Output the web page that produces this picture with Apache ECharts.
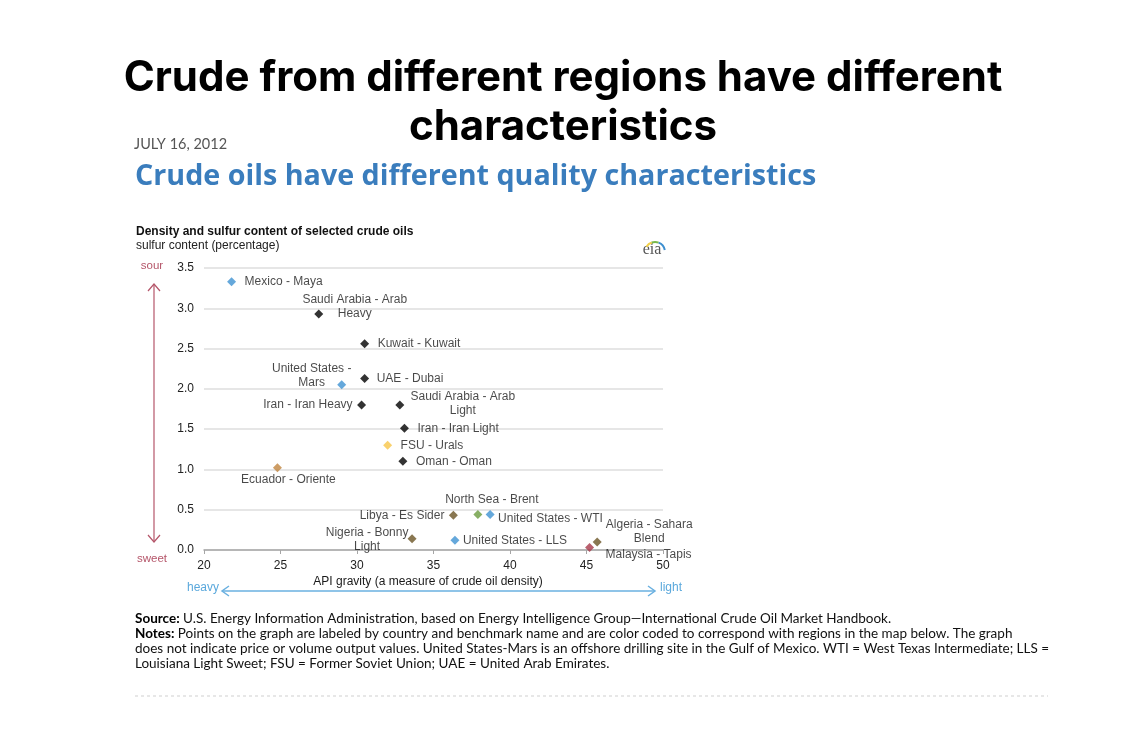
<!DOCTYPE html>
<html lang="en">
    <head>
        <meta http-equiv="Content-Type" content="text/html; charset=utf-8" />
        <title>Crude oils have different quality characteristics</title>
        <style>
            * {
                margin: 0;
                padding: 0;
                box-sizing: border-box;
            }
            html,
            body {
                width: 100%;
                height: 100%;
                background: #fff;
            }
            #main {
                width: 1127px;
                height: 748px;
            }
        </style>
    </head>
    <body>
        <div id="main"></div>
        <script src="https://cdn.jsdelivr.net/npm/echarts@6/dist/echarts.min.js"></script>
        <script>
            // data (API gravity vs sulfur %)
            const crudeNames = [
                'Mexico - Maya',
                'Saudi Arabia - Arab\nHeavy',
                'Kuwait - Kuwait',
                'United States -\nMars',
                'UAE - Dubai',
                'Iran - Iran Heavy',
                'Saudi Arabia - Arab\nLight',
                'Iran - Iran Light',
                'FSU - Urals',
                'Oman - Oman',
                'Ecuador - Oriente',
                'Libya - Es Sider',
                'North Sea - Brent',
                'United States - WTI',
                'Nigeria - Bonny\nLight',
                'United States - LLS',
                'Algeria - Sahara\nBlend',
                'Malaysia - Tapis',
            ]
            const apiGravity = [21.8, 27.5, 30.5, 29.0, 30.5, 30.3, 32.8, 33.1, 32.0, 33.0, 24.8, 36.3, 37.9, 38.7, 33.6, 36.4, 45.7, 45.2]
            const sulfurContent = [3.33, 2.93, 2.56, 2.05, 2.13, 1.8, 1.8, 1.51, 1.3, 1.1, 1.02, 0.43, 0.44, 0.44, 0.14, 0.12, 0.1, 0.03]
            const regions = [
                'North America', 'Middle East', 'Middle East', 'North America', 'Middle East',
                'Middle East', 'Middle East', 'Middle East', 'Former Soviet Union', 'Middle East',
                'South America', 'Africa', 'Europe', 'North America', 'Africa',
                'North America', 'Africa', 'Asia',
            ]
            const xTicks = [20, 25, 30, 35, 40, 45, 50]
            const yTicks = [0, 0.5, 1, 1.5, 2, 2.5, 3, 3.5]

            const regionColor = {
                'North America': '#3f92d2',
                'Middle East': '#000000',
                'Former Soviet Union': '#f7c648',
                'South America': '#c0843e',
                Africa: '#6b5526',
                Europe: '#6a9b3e',
                Asia: '#a8384a',
            }
            // label placement around each marker: [dx, dy, align]
            const labelPlace = [
                [13, 0, 'left'], [36, -7, 'center'], [13, 0, 'left'], [-30, -9, 'center'],
                [12, 0, 'left'], [-9, 0, 'right'], [63, -1, 'center'], [13, 0, 'left'],
                [13, 0, 'left'], [13, 0, 'left'], [11, 12, 'center'], [-9, 0, 'right'],
                [14, -15, 'center'], [8, 4, 'left'], [-45, 1, 'center'], [8, 0, 'left'],
                [52, -10, 'center'], [59, 7, 'center'],
            ]

            const points = crudeNames.map((name, i) => ({
                name: name,
                value: [apiGravity[i], sulfurContent[i]],
                itemStyle: { color: regionColor[regions[i]] },
                label: {
                    offset: [labelPlace[i][0], labelPlace[i][1]],
                    align: labelPlace[i][2],
                },
            }))

            const labelFont = 'Liberation Sans, Arial, sans-serif'
            const chart = echarts.init(document.getElementById('main'))
            chart.setOption({
                animation: false,
                grid: {
                    left: 204,
                    top: 268,
                    width: 459,
                    height: 282,
                },
                xAxis: {
                    type: 'value',
                    min: xTicks[0],
                    max: xTicks[xTicks.length - 1],
                    interval: xTicks[1] - xTicks[0],
                    splitLine: { show: false },
                    axisLine: { lineStyle: { color: '#a6a6a6', width: 1.5 } },
                    axisTick: { show: true, length: 4, lineStyle: { color: '#a6a6a6' } },
                    axisLabel: { color: '#222', fontFamily: labelFont, fontSize: 12, margin: 10 },
                },
                yAxis: {
                    type: 'value',
                    min: yTicks[0],
                    max: yTicks[yTicks.length - 1],
                    interval: yTicks[1] - yTicks[0],
                    axisLine: { show: false },
                    axisTick: { show: false },
                    splitLine: { lineStyle: { color: '#dedede', width: 1.5 } },
                    axisLabel: {
                        color: '#222',
                        fontFamily: labelFont,
                        fontSize: 12,
                        margin: 10,
                        formatter: (v) => v.toFixed(1),
                    },
                },
                series: [
                    {
                        type: 'scatter',
                        symbol: 'diamond',
                        symbolSize: 9,
                        data: points,
                        label: {
                            show: true,
                            position: 'inside',
                            formatter: '{b}',
                            color: '#1a1a1a',
                            fontFamily: labelFont,
                            fontSize: 12,
                            lineHeight: 14,
                            verticalAlign: 'middle',
                        },
                        emphasis: { disabled: true },
                    },
                ],
                graphic: [
                    {
                        type: 'text',
                        x: 563,
                        y: 78,
                        style: {
                            text: 'Crude from different regions have different',
                            font: 'bold 42px Inter, sans-serif',
                            fill: '#000',
                            textAlign: 'center',
                            textVerticalAlign: 'middle',
                        },
                    },
                    {
                        type: 'text',
                        x: 563,
                        y: 127,
                        style: {
                            text: 'characteristics',
                            font: 'bold 42px Inter, sans-serif',
                            fill: '#000',
                            textAlign: 'center',
                            textVerticalAlign: 'middle',
                        },
                    },
                    {
                        type: 'text',
                        x: 134,
                        y: 144,
                        style: {
                            text: 'JULY 16, 2012',
                            font: '14.5px Lato, sans-serif',
                            fill: '#555',
                            textVerticalAlign: 'middle',
                        },
                    },
                    {
                        type: 'text',
                        x: 135,
                        y: 177,
                        style: {
                            text: 'Crude oils have different quality characteristics',
                            font: 'bold 28.7px Open Sans, sans-serif',
                            fill: '#3a7dbd',
                            textVerticalAlign: 'middle',
                        },
                    },
                    {
                        type: 'text',
                        x: 136,
                        y: 232,
                        style: {
                            text: 'Density and sulfur content of selected crude oils',
                            font: 'bold 12px ' + labelFont,
                            fill: '#111',
                            textVerticalAlign: 'middle',
                        },
                    },
                    {
                        type: 'text',
                        x: 136,
                        y: 246,
                        style: {
                            text: 'sulfur content (percentage)',
                            font: '12px ' + labelFont,
                            fill: '#222',
                            textVerticalAlign: 'middle',
                        },
                    },
                    // eia logo
                    {
                        type: 'text',
                        x: 652,
                        y: 250,
                        style: {
                            text: 'eia',
                            font: '16px Liberation Serif, serif',
                            fill: '#555',
                            textAlign: 'center',
                            textVerticalAlign: 'middle',
                        },
                    },
                    {
                        type: 'arc',
                        shape: { cx: 655, cy: 252, r: 10, startAngle: -2.6, endAngle: -1.9 },
                        style: { stroke: '#f2d04a', lineWidth: 2, fill: null },
                    },
                    {
                        type: 'arc',
                        shape: { cx: 655, cy: 252, r: 10, startAngle: -1.9, endAngle: -1.2 },
                        style: { stroke: '#79b94a', lineWidth: 2, fill: null },
                    },
                    {
                        type: 'arc',
                        shape: { cx: 655, cy: 252, r: 10, startAngle: -1.2, endAngle: -0.2 },
                        style: { stroke: '#3d8fd0', lineWidth: 2, fill: null },
                    },
                    // sour / sweet arrow
                    {
                        type: 'text',
                        x: 152,
                        y: 266,
                        style: {
                            text: 'sour',
                            font: '11.5px ' + labelFont,
                            fill: '#b5566a',
                            textAlign: 'center',
                            textVerticalAlign: 'middle',
                        },
                    },
                    {
                        type: 'text',
                        x: 152,
                        y: 559,
                        style: {
                            text: 'sweet',
                            font: '11.5px ' + labelFont,
                            fill: '#b5566a',
                            textAlign: 'center',
                            textVerticalAlign: 'middle',
                        },
                    },
                    {
                        type: 'line',
                        shape: { x1: 154, y1: 284, x2: 154, y2: 542 },
                        style: { stroke: '#b5566a', lineWidth: 1.2 },
                    },
                    {
                        type: 'polyline',
                        shape: { points: [[148, 291], [154, 284], [160, 291]] },
                        style: { stroke: '#b5566a', lineWidth: 1.2, fill: null },
                    },
                    {
                        type: 'polyline',
                        shape: { points: [[148, 535], [154, 542], [160, 535]] },
                        style: { stroke: '#b5566a', lineWidth: 1.2, fill: null },
                    },
                    // heavy / light arrow
                    {
                        type: 'text',
                        x: 203,
                        y: 588,
                        style: {
                            text: 'heavy',
                            font: '12px ' + labelFont,
                            fill: '#5aa8dc',
                            textAlign: 'center',
                            textVerticalAlign: 'middle',
                        },
                    },
                    {
                        type: 'text',
                        x: 671,
                        y: 588,
                        style: {
                            text: 'light',
                            font: '12px ' + labelFont,
                            fill: '#5aa8dc',
                            textAlign: 'center',
                            textVerticalAlign: 'middle',
                        },
                    },
                    {
                        type: 'text',
                        x: 428,
                        y: 582,
                        style: {
                            text: 'API gravity (a measure of crude oil density)',
                            font: '12px ' + labelFont,
                            fill: '#1a1a1a',
                            textAlign: 'center',
                            textVerticalAlign: 'middle',
                        },
                    },
                    {
                        type: 'line',
                        shape: { x1: 222, y1: 591, x2: 655, y2: 591 },
                        style: { stroke: '#6ab0e0', lineWidth: 1.5 },
                    },
                    {
                        type: 'polyline',
                        shape: { points: [[229, 586], [222, 591], [229, 596]] },
                        style: { stroke: '#6ab0e0', lineWidth: 1.5, fill: null },
                    },
                    {
                        type: 'polyline',
                        shape: { points: [[648, 586], [655, 591], [648, 596]] },
                        style: { stroke: '#6ab0e0', lineWidth: 1.5, fill: null },
                    },
                    // source and notes
                    {
                        type: 'text',
                        x: 135,
                        y: 611,
                        style: {
                            text: [
                                '{b|Source:} U.S. Energy Information Administration, based on Energy Intelligence Group\u2014International Crude Oil Market Handbook.',
                                '{b|Notes:} Points on the graph are labeled by country and benchmark name and are color coded to correspond with regions in the map below. The graph',
                                'does not indicate price or volume output values. United States-Mars is an offshore drilling site in the Gulf of Mexico. WTI = West Texas Intermediate; LLS =',
                                'Louisiana Light Sweet; FSU = Former Soviet Union; UAE = United Arab Emirates.',
                            ].join('\n'),
                            font: '13.5px Lato, sans-serif',
                            fill: '#111',
                            lineHeight: 15,
                            rich: {
                                b: { fontWeight: 'bold', fontSize: 13.5, fontFamily: 'Lato, sans-serif', fill: '#000' },
                            },
                        },
                    },
                    {
                        type: 'line',
                        shape: { x1: 135, y1: 696, x2: 1048, y2: 696 },
                        style: { stroke: '#cfcfcf', lineWidth: 1, lineDash: [3, 3] },
                    },
                ],
            })
        </script>
    </body>
</html>
